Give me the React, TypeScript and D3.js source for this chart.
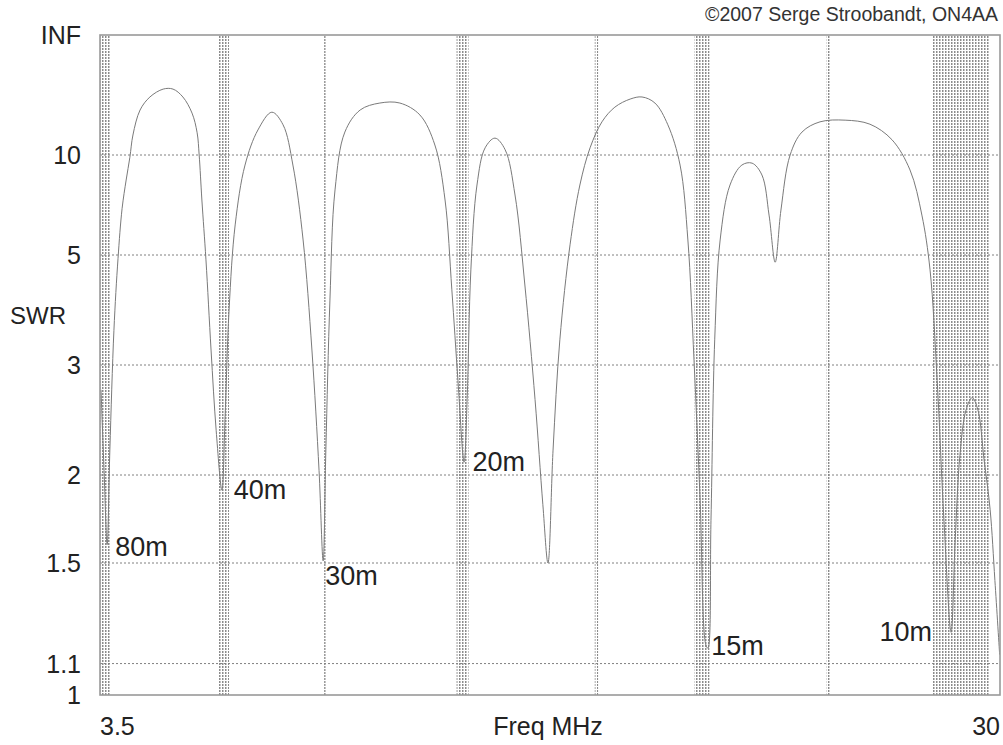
import React from "react";
import * as d3 from "d3";

const W = 1003;
const H = 745;

// Frequency (MHz) and SWR
const freqs = [
  3.53, 3.62, 3.71, 3.79, 3.91, 4.03, 4.15, 4.27, 4.38, 4.47, 4.68, 4.97, 5.36, 5.65, 5.94, 6.21, 6.36, 6.42,
  6.5, 6.62, 6.77, 6.92, 7.09,
  7.18, 7.3, 7.48, 7.77, 8.15, 8.56, 8.89, 9.18, 9.48, 9.74, 9.95, 10.07, 10.15, 10.27, 10.42, 10.71,
  11.16, 11.74, 12.33, 12.92, 13.36, 13.66, 13.86, 14.04, 14.22, 14.31, 14.42, 14.6, 14.84, 15.13,
  15.43, 15.72, 16.01, 16.31, 16.54, 16.69, 16.84, 17.04, 17.34, 17.63, 17.93, 18.28, 18.66, 19.11,
  19.46, 19.84, 20.22, 20.58, 20.81, 20.99, 21.17, 21.34, 21.4, 21.49, 21.6, 21.76, 22.05, 22.4, 22.7,
  22.99, 23.2, 23.38, 23.55, 23.82, 24.17, 24.7, 25.44, 26.17, 26.82, 27.35, 27.7, 27.94, 28.15, 28.35,
  28.56, 28.68, 28.82, 29.0, 29.18, 29.35, 29.53, 29.71, 29.85, 29.99,
];
const swr = [
  2.72, 2.03, 1.59, 2.18, 3.47, 4.9, 6.6, 8.1, 9.8, 12.2, 16.6, 20.3, 23.4, 23.4, 20.3, 15.9, 12.5, 10.0,
  7.0, 4.87, 3.19, 2.34, 1.9,
  2.43, 3.8, 5.95, 9.15, 12.9, 16.1, 13.7, 9.15, 5.44, 3.19, 2.03, 1.51, 2.18, 3.98, 7.52, 12.6,
  16.6, 18.4, 18.4, 15.5, 11.0, 7.0, 4.18, 2.82, 2.09, 2.62, 4.62, 7.8, 10.7, 11.8,
  10.5, 7.25, 4.28, 2.62, 1.81, 1.5, 2.18, 3.33, 5.29, 7.8, 10.7, 14.2, 17.3, 19.6,
  20.3, 18.4, 13.7, 9.15, 5.44, 3.06, 1.84, 1.164, 1.153, 1.72, 3.33, 5.44, 7.8, 9.15, 9.3,
  8.43, 6.33, 4.81, 6.54, 10.0, 12.6, 14.2, 14.5, 13.8, 11.6, 8.78, 6.33, 4.62, 2.82, 1.72,
  1.21, 1.61, 2.14, 2.52, 2.64, 2.52, 2.11, 1.78, 1.42, 1.13,
];

// Amateur bands (MHz)
const bandStart = [3.5, 7.0, 10.1, 14.0, 18.068, 21.0, 24.89, 28.0];
const bandEnd = [3.8, 7.3, 10.15, 14.35, 18.168, 21.45, 24.99, 29.7];

// Band labels anchored at data coordinates
const labelText = ["80m", "40m", "30m", "20m", "15m", "10m"];
const labelFreq = [3.95, 7.44, 10.13, 14.47, 21.5, 28.0];
const labelSwr = [1.58, 1.9, 1.44, 2.09, 1.16, 1.21];
const labelAnchor = ["start", "start", "start", "start", "start", "end"];

const yTickValues = [Infinity, 10, 5, 3, 2, 1.5, 1.1, 1];
const yTickLabels = ["INF", "10", "5", "3", "2", "1.5", "1.1", "1"];
const xTickValues = [3.5, 30];
const xTickLabels = ["3.5", "30"];

const FONT = "'Liberation Sans', Arial, Helvetica, sans-serif";

const gamma = (s: number) => (s === Infinity ? 1 : (s - 1) / (s + 1));

export default function App() {
  const left = 100, right = 1000, top = 35, bottom = 695;
  const x = d3.scaleLinear().domain([3.5, 30]).range([left, right]);
  const g = d3.scaleLinear().domain([0, 1]).range([bottom, top]);
  const y = (s: number) => g(gamma(s));

  const pts: [number, number][] = freqs.map((f, i) => [x(f), y(swr[i])]);
  const line = d3.line().curve(d3.curveCatmullRom.alpha(0.5))(pts) || "";

  return (
    <svg width={W} height={H} style={{ position: "absolute", left: 0, top: 0, background: "#fff" }} fontFamily={FONT}>
      <defs>
        <pattern id="band" width={3} height={3} patternUnits="userSpaceOnUse">
          <rect x={0} y={0} width={1.5} height={2} fill="#8c8c8c" />
        </pattern>
        <clipPath id="plot">
          <rect x={left} y={top} width={right - left} height={bottom - top} />
        </clipPath>
      </defs>
      <rect x={0} y={0} width={W} height={H} fill="#fff" />
      {bandStart.map((b, i) => (
        <rect
          key={i}
          x={x(b)}
          y={top}
          width={Math.max(x(bandEnd[i]) - x(b), 2)}
          height={bottom - top}
          fill="url(#band)"
        />
      ))}
      {yTickValues.filter((v) => v !== Infinity && v !== 1).map((v, i) => (
        <line key={i} x1={left} x2={right} y1={y(v)} y2={y(v)} stroke="#808080" strokeWidth={1} strokeDasharray="2,2" />
      ))}
      <path d={line} fill="none" stroke="#7a7a7a" strokeWidth={1} clipPath="url(#plot)" />
      <rect x={left} y={top} width={right - left} height={bottom - top} fill="none" stroke="#999" strokeWidth={1.6} />
      {yTickValues.map((v, i) => (
        <text key={i} x={81} y={y(v)} textAnchor="end" dominantBaseline="central" fontSize={25} fill="#222">
          {yTickLabels[i]}
        </text>
      ))}
      <text x={10} y={315} dominantBaseline="central" fontSize={24} fill="#222">SWR</text>
      {xTickValues.map((v, i) => (
        <text key={i} x={x(v)} y={726} textAnchor={i === 0 ? "start" : "end"} dominantBaseline="central" fontSize={25} fill="#222">
          {xTickLabels[i]}
        </text>
      ))}
      <text x={548} y={726} textAnchor="middle" dominantBaseline="central" fontSize={25} fill="#222">Freq MHz</text>
      {labelText.map((t, i) => (
        <text key={i} x={x(labelFreq[i])} y={y(labelSwr[i])} textAnchor={labelAnchor[i]} dominantBaseline="central" fontSize={27} fill="#222">
          {t}
        </text>
      ))}
      <text x={998} y={14} textAnchor="end" dominantBaseline="central" fontSize={19.5} fill="#333">
        ©2007 Serge Stroobandt, ON4AA
      </text>
    </svg>
  );
}
